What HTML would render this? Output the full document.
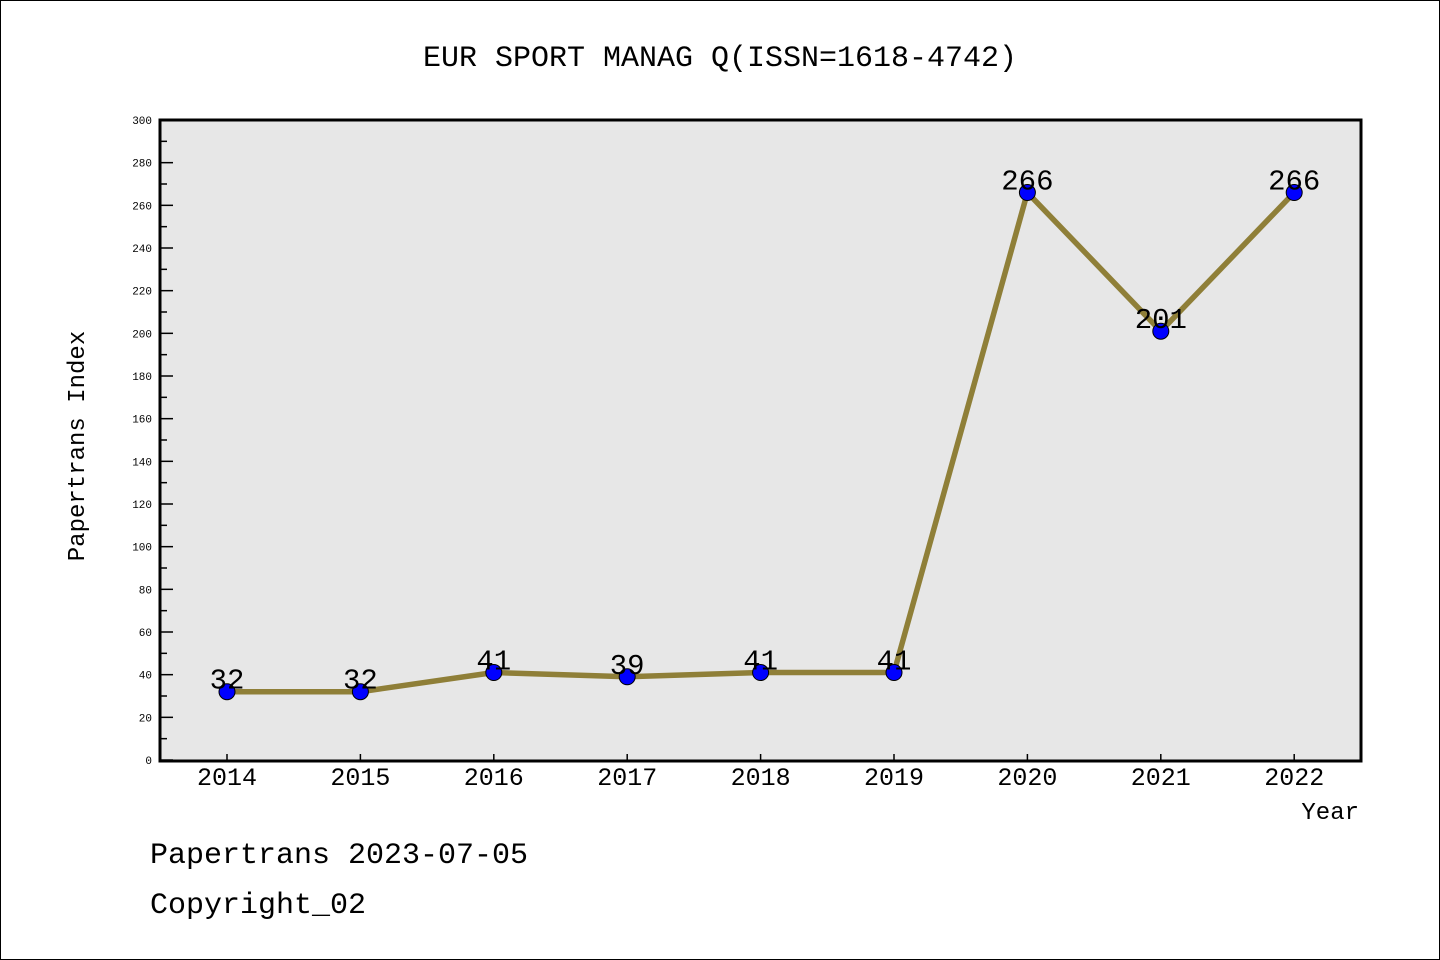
<!DOCTYPE html>
<html><head><meta charset="utf-8"><style>
html,body{margin:0;padding:0;background:#fff}
svg{display:block}
text{font-family:"Liberation Mono","DejaVu Sans Mono",monospace}
</style></head><body>
<svg width="1440" height="960" xmlns="http://www.w3.org/2000/svg">
<rect x="0.5" y="0.5" width="1439" height="959" fill="#fff" stroke="#000"/>
<text x="720" y="66" text-anchor="middle" font-size="30">EUR SPORT MANAG Q(ISSN=1618-4742)</text>
<rect x="160" y="120" width="1201" height="641" fill="#e7e7e7" stroke="#000" stroke-width="3"/>
<g id="yaxis"></g><g id="xaxis"></g><g id="series"></g>
<text x="84" y="446" text-anchor="middle" font-size="24" transform="rotate(-90 84 446)">Papertrans Index</text>
<text x="1359" y="819" text-anchor="end" font-size="24">Year</text>
<text x="150" y="863" font-size="30">Papertrans 2023-07-05</text>
<text x="150" y="913" font-size="30">Copyright_02</text>
</svg>
<script>
const years=[2014,2015,2016,2017,2018,2019,2020,2021,2022];
const values=[32,32,41,39,41,41,266,201,266];
const yTicks=[0,20,40,60,80,100,120,140,160,180,200,220,240,260,280,300];
const NS="http://www.w3.org/2000/svg";
const X=i=>227+i*133.4;
const Y=v=>760-v*(640/300);
function mk(tag,attrs,parent,txt){const e=document.createElementNS(NS,tag);for(const k in attrs)e.setAttribute(k,attrs[k]);if(txt!==undefined)e.textContent=txt;parent.appendChild(e);return e;}
const ya=document.getElementById('yaxis');
yTicks.forEach(t=>{
  const l=mk('line',{x1:160,x2:173,y1:Y(t),y2:Y(t),stroke:'#000','stroke-width':1.5},ya);
  
  
  const tx=mk('text',{x:152,y:Y(t)+4,'text-anchor':'end','font-size':11,'font-family':'Liberation Sans, sans-serif'},ya,String(t));
  
  
  if(t<300){const m=mk('line',{x1:160,x2:167,y1:Y(t+10),y2:Y(t+10),stroke:'#000','stroke-width':1.5},ya);
  
  }
});
const xa=document.getElementById('xaxis');
years.forEach((y,i)=>{
  const l=mk('line',{x1:X(i),x2:X(i),y1:754,y2:760,stroke:'#000','stroke-width':1.5},xa);
  
  
  const tx=mk('text',{x:X(i),y:785,'text-anchor':'middle','font-size':25,'font-family':'Liberation Sans, sans-serif'},xa,String(y));
  
  
});
const s=document.getElementById('series');
const pl=mk('polyline',{points:values.map((v,i)=>X(i)+','+Y(v)).join(' '),fill:'none',stroke:'#8f7f38','stroke-width':5.5,'stroke-linejoin':'round'},s);


values.forEach((v,i)=>{
  const c=mk('circle',{cx:X(i),cy:Y(v),r:8,fill:'#0000ff',stroke:'#000','stroke-width':1},s);
  
  
  const t=mk('text',{x:X(i),y:Y(v)-3,'text-anchor':'middle','font-size':29,'font-family':'Liberation Sans, sans-serif'},s,String(v));
  
  
});
</script>
</body></html>
